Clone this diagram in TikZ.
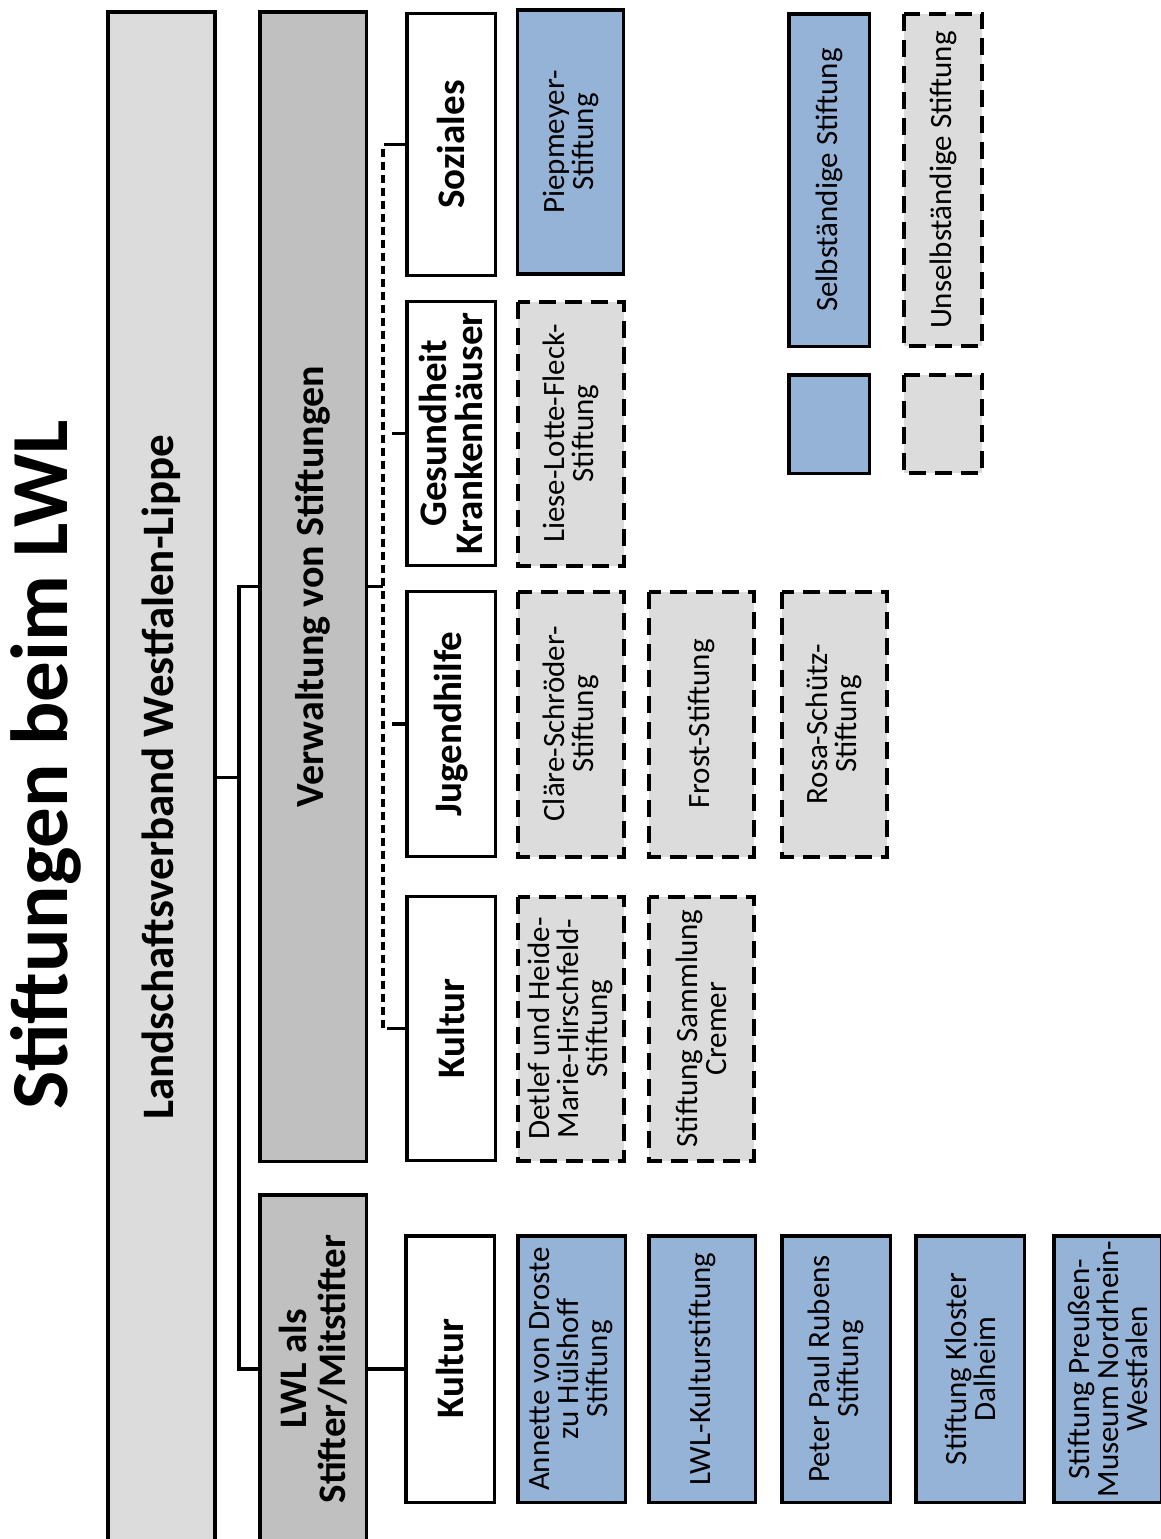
\documentclass[tikz,border=0pt]{standalone}
\usepackage{fontspec}
\setmainfont{Carlito}
\definecolor{stblue}{HTML}{95B3D7}
\definecolor{stgray}{HTML}{DCDCDC}
\definecolor{admgray}{HTML}{C0C0C0}
\begin{document}
\begin{tikzpicture}[x=1pt, y=-1pt,
    frame/.style={draw, line width=3.5pt, rotate=90, inner sep=0pt, align=center},
    area/.style={frame, fill=white, minimum height=88.5, font=\fontsize{39}{36}\selectfont\bfseries},
    selbst/.style={frame, fill=stblue, font=\fontsize{31}{29}\selectfont},
    unselbst/.style={frame, fill=stgray, line width=4pt, dash pattern=on 17pt off 9pt, font=\fontsize{31}{29}\selectfont},
    conn/.style={line width=3.5pt},
    bus/.style={line width=3.5pt, dash pattern=on 8pt off 5pt}]
        \useasboundingbox (0,0) rectangle (1160,1539);
        % Title
        \node[rotate=90, anchor=base, font=\fontsize{81}{90}\selectfont\bfseries] (title) at (67,765) {Stiftungen beim LWL};
        % Left column
        \node[frame, fill=stgray, minimum width=1531, minimum height=107, font=\fontsize{45}{50}\selectfont\bfseries] (lwl) at (161.5,777.5) {Landschaftsverband Westfalen-Lippe};
        \node[frame, fill=admgray, minimum width=1149.5, minimum height=106.5, font=\fontsize{40}{44}\selectfont\bfseries] (verw) at (313,586.5) {Verwaltung von Stiftungen};
        \node[frame, fill=admgray, minimum width=348.5, minimum height=106.5, font=\fontsize{39}{39}\selectfont\bfseries] (als) at (313,1369) {LWL als\\Stifter/Mitstifter};
        % Areas
        \node[area, minimum width=262] (soz) at (451,144.5) {Soziales};
        \node[area, minimum width=264] (ges) at (451,433.5) {Gesundheit\\Krankenhäuser};
        \node[area, minimum width=265] (jug) at (451,724) {Jugendhilfe};
        \node[area, minimum width=264] (kul) at (451,1028.5) {Kultur};
        \node[area, minimum width=266.5] (kul2) at (450,1369) {Kultur};
        % Foundations managed by the LWL
        \node[selbst, minimum width=264, minimum height=106] (piep) at (570.5,142) {Piepmeyer-\\Stiftung};
        \node[unselbst, minimum width=264, minimum height=106] (liese) at (570.5,433.5) {Liese-Lotte-Fleck-\\Stiftung};
        \node[unselbst, minimum width=265, minimum height=106] (claere) at (570.5,724) {Cläre-Schröder-\\Stiftung};
        \node[unselbst, minimum width=264, minimum height=106] (detlef) at (570.5,1028.5) {Detlef und Heide-\\Marie-Hirschfeld-\\Stiftung};
        \node[unselbst, minimum width=265, minimum height=105] (frost) at (701,724) {Frost-Stiftung};
        \node[unselbst, minimum width=264, minimum height=105] (cremer) at (701,1028.5) {Stiftung Sammlung\\Cremer};
        \node[unselbst, minimum width=265, minimum height=105] (rosa) at (834,724) {Rosa-Schütz-\\Stiftung};
        % Foundations with the LWL as founder
        \node[selbst, minimum width=266.5, minimum height=107.5] (annette) at (571.5,1369) {Annette von Droste\\zu Hülshoff\\Stiftung};
        \node[selbst, minimum width=266.5, minimum height=106.5] (lwlk) at (702,1369) {LWL-Kulturstiftung};
        \node[selbst, minimum width=266.5, minimum height=108.5] (rubens) at (836,1369) {Peter Paul Rubens\\Stiftung};
        \node[selbst, minimum width=266.5, minimum height=108.5] (dalheim) at (970,1369) {Stiftung Kloster\\Dalheim};
        \node[selbst, minimum width=266.5, minimum height=107.5] (preussen) at (1107.5,1369) {Stiftung Preußen-\\Museum Nordrhein-\\Westfalen};
        % Legend
        \node[selbst, minimum width=332.5, minimum height=80.5] (leg1) at (829,180) {Selbständige Stiftung};
        \node[unselbst, minimum width=332.5, minimum height=78.5] (leg2) at (943,180) {Unselbständige Stiftung};
        \node[selbst, minimum width=98.5, minimum height=80.5] (leg1b) at (829,424) {};
        \node[unselbst, minimum width=98.5, minimum height=78.5] (leg2b) at (943,424) {};
        % Connectors
        \draw[conn] (lwl.south) -- ++(22,0) coordinate (fork);
        \draw[conn] (verw.north) -| (fork) |- (als.north);
        \draw[conn] (als.south) -- (kul2.north);
        \coordinate (bus) at ([xshift=-22pt]soz.north);
        \draw[conn] (verw.south) -- (verw.south -| bus);
        \draw[bus] ([xshift=-13pt]soz.north) -| ([xshift=-22pt]kul.north) -- ([xshift=-13pt]kul.north);
        \foreach \n in {soz,ges,jug,kul}
            \draw[conn] (\n.north) -- ++(-13,0);
    \end{tikzpicture}
\end{document}
